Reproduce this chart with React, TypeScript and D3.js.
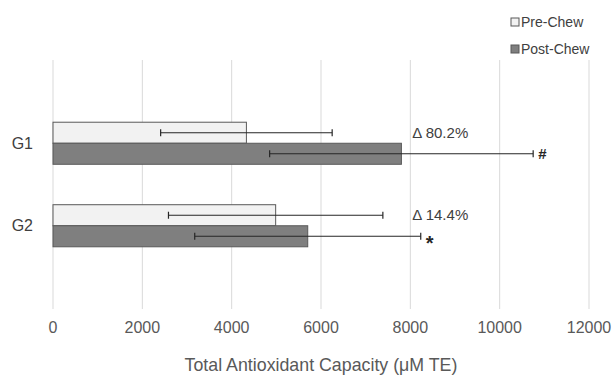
import { useEffect, useRef } from "react";
import * as d3 from "d3";

const groups = ["G1", "G2"];
const series = ["Pre-Chew", "Post-Chew"];
const preChew = [4330, 4985];
const postChew = [7800, 5703];
const preErr = [1920, 2400];
const postErr = [2950, 2530];
const deltaLabels = ["Δ 80.2%", "Δ 14.4%"];
const sigMarks = ["#", "*"];
const xTicks = [0, 2000, 4000, 6000, 8000, 10000, 12000];

export default function App() {
  const ref = useRef<SVGSVGElement>(null);

  useEffect(() => {
    document.body.style.margin = "0";
    const width = 614;
    const height = 375;
    const font = "'Liberation Sans', Arial, sans-serif";

    const svg = d3.select(ref.current).attr("width", width).attr("height", height);
    svg.selectAll("*").remove();

    const x = d3.scaleLinear().domain([0, 12000]).range([53, 589]);
    const y = d3.scaleBand().domain(groups).range([102, 267]).paddingInner(0.49).paddingOuter(0.245);
    const sub = d3.scaleBand().domain(series).range([0, y.bandwidth()]);
    const fills: Record<string, string> = { "Pre-Chew": "#f2f2f2", "Post-Chew": "#7f7f7f" };

    // gridlines
    svg.append("g")
      .selectAll("line")
      .data(xTicks)
      .enter()
      .append("line")
      .attr("x1", d => x(d)).attr("x2", d => x(d))
      .attr("y1", 60).attr("y2", 309)
      .attr("stroke", "#d9d9d9").attr("stroke-width", 1);

    // tick labels
    svg.append("g")
      .selectAll("text")
      .data(xTicks)
      .enter()
      .append("text")
      .attr("x", d => x(d)).attr("y", 333)
      .attr("text-anchor", "middle")
      .attr("font-family", font).attr("font-size", 16).attr("fill", "#595959")
      .text(d => String(d));

    svg.append("text")
      .attr("x", (x(0) + x(12000)) / 2).attr("y", 371)
      .attr("text-anchor", "middle")
      .attr("font-family", font).attr("font-size", 17.8).attr("fill", "#595959")
      .text("Total Antioxidant Capacity (μM TE)");

    const rows = groups.map((g, i) => [
      { g, key: "Pre-Chew", v: preChew[i], e: preErr[i] },
      { g, key: "Post-Chew", v: postChew[i], e: postErr[i] },
    ]).flat();

    // bars
    svg.append("g")
      .selectAll("rect")
      .data(rows)
      .enter()
      .append("rect")
      .attr("x", x(0))
      .attr("y", d => (y(d.g) as number) + (sub(d.key) as number))
      .attr("width", d => x(d.v) - x(0))
      .attr("height", sub.bandwidth())
      .attr("fill", d => fills[d.key])
      .attr("stroke", "#595959").attr("stroke-width", 1);

    // error bars
    const err = svg.append("g").selectAll("g").data(rows).enter().append("g")
      .attr("transform", d => `translate(0,${(y(d.g) as number) + (sub(d.key) as number) + sub.bandwidth() / 2})`);
    err.append("line")
      .attr("x1", d => x(d.v - d.e)).attr("x2", d => x(d.v + d.e))
      .attr("stroke", "#262626").attr("stroke-width", 1.2);
    err.append("line")
      .attr("x1", d => x(d.v - d.e)).attr("x2", d => x(d.v - d.e))
      .attr("y1", -3.5).attr("y2", 3.5)
      .attr("stroke", "#262626").attr("stroke-width", 1.2);
    err.append("line")
      .attr("x1", d => x(d.v + d.e)).attr("x2", d => x(d.v + d.e))
      .attr("y1", -3.5).attr("y2", 3.5)
      .attr("stroke", "#262626").attr("stroke-width", 1.2);

    // category labels
    svg.append("g")
      .selectAll("text")
      .data(groups)
      .enter()
      .append("text")
      .attr("x", 33)
      .attr("y", d => (y(d) as number) + y.bandwidth() / 2)
      .attr("dy", "0.35em")
      .attr("text-anchor", "end")
      .attr("font-family", font).attr("font-size", 16).attr("fill", "#404040")
      .text(d => d);

    // delta annotations
    svg.append("g")
      .selectAll("text")
      .data(groups)
      .enter()
      .append("text")
      .attr("x", x(8000) + 2)
      .attr("y", d => (y(d) as number) + (sub("Pre-Chew") as number) + sub.bandwidth() / 2)
      .attr("dy", "0.35em")
      .attr("font-family", font).attr("font-size", 15).attr("fill", "#404040")
      .text((d, i) => deltaLabels[i]);

    // significance marks
    svg.append("g")
      .selectAll("text")
      .data(groups)
      .enter()
      .append("text")
      .attr("x", (d, i) => x(postChew[i] + postErr[i]) + 5)
      .attr("y", d => (y(d) as number) + (sub("Post-Chew") as number) + sub.bandwidth() / 2)
      .attr("dy", (d, i) => (i === 0 ? "0.35em" : "0.7em"))
      .attr("font-family", font).attr("font-size", (d, i) => (i === 0 ? 15 : 20))
      .attr("font-weight", "bold").attr("fill", "#262626")
      .text((d, i) => sigMarks[i]);

    // legend
    const legend = svg.append("g")
      .selectAll("g")
      .data(series)
      .enter()
      .append("g")
      .attr("transform", (d, i) => `translate(511,${22 + i * 27})`);
    legend.append("rect")
      .attr("x", 0).attr("y", -4).attr("width", 8).attr("height", 8)
      .attr("fill", d => fills[d]).attr("stroke", "#595959").attr("stroke-width", 1);
    legend.append("text")
      .attr("x", 10).attr("y", 0).attr("dy", "0.35em")
      .attr("font-family", font).attr("font-size", 14).attr("fill", "#404040")
      .text(d => d);
  }, []);

  return <svg ref={ref} style={{ display: "block" }} />;
}
